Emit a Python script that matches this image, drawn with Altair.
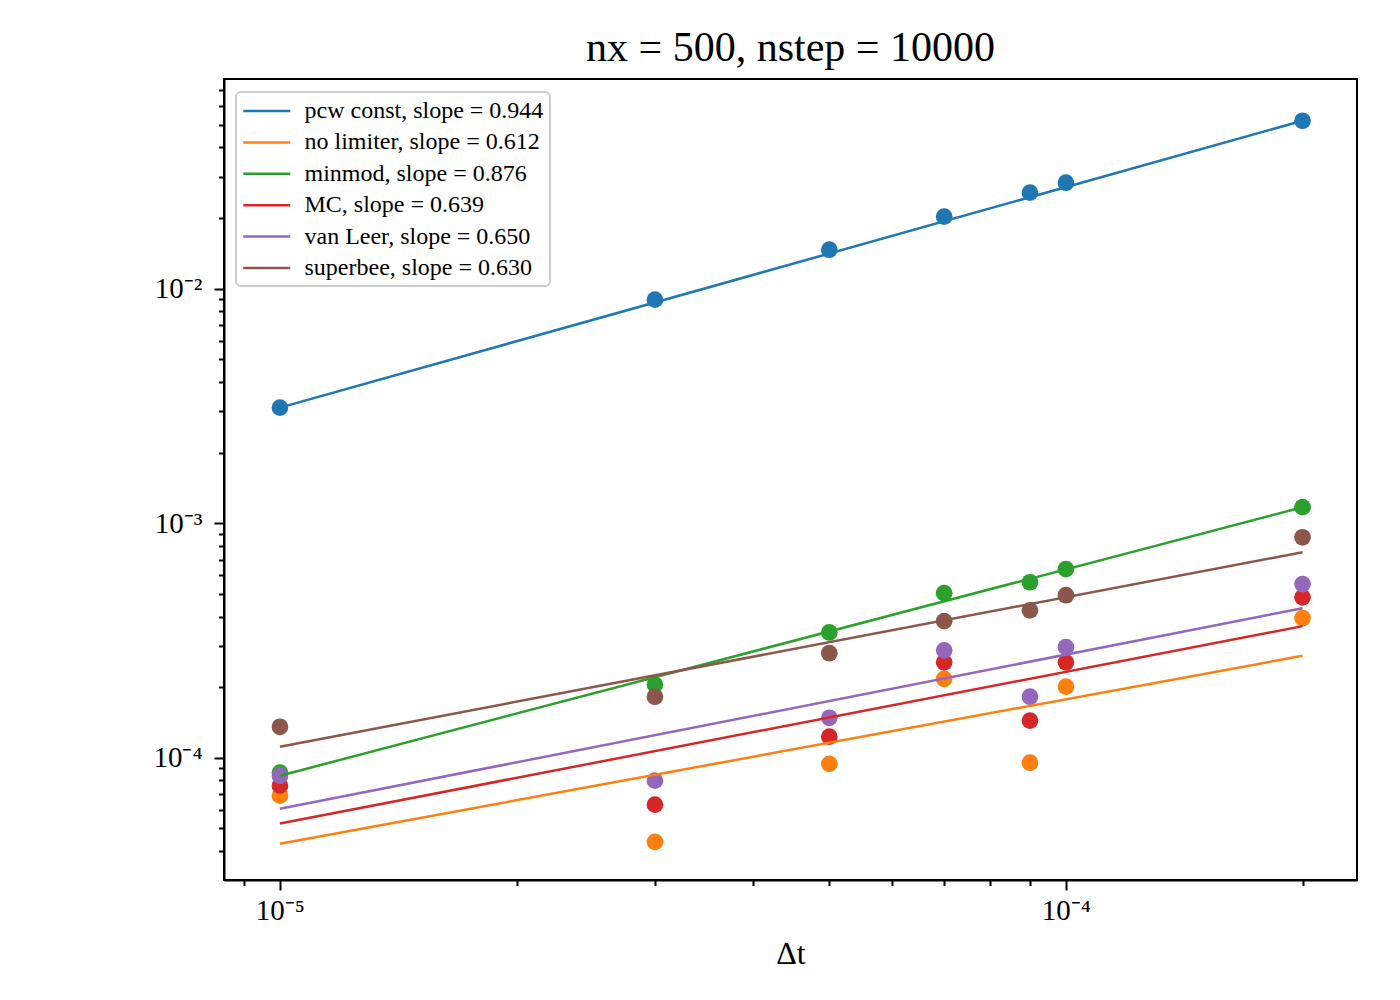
import altair as alt
import pandas as pd

# time steps
dt = [1e-5, 3e-5, 5e-5, 7e-5, 9e-5, 1e-4, 2e-4]

# series names (legend labels)
names = [
    "pcw const, slope = 0.944",
    "no limiter, slope = 0.612",
    "minmod, slope = 0.876",
    "MC, slope = 0.639",
    "van Leer, slope = 0.650",
    "superbee, slope = 0.630",
]
colors = ["#1f77b4", "#ff7f0e", "#2ca02c", "#d62728", "#9467bd", "#8c564b"]

# measured errors
err_pcw = [3.11e-3, 8.98e-3, 1.466e-2, 2.03e-2, 2.566e-2, 2.83e-2, 5.20e-2]
err_nolim = [6.89e-5, 4.38e-5, 9.42e-5, 2.17e-4, 9.52e-5, 2.01e-4, 3.94e-4]
err_minmod = [8.63e-5, 2.05e-4, 3.42e-4, 5.03e-4, 5.60e-4, 6.37e-4, 1.17e-3]
err_mc = [7.60e-5, 6.31e-5, 1.23e-4, 2.55e-4, 1.44e-4, 2.55e-4, 4.83e-4]
err_vl = [8.38e-5, 7.98e-5, 1.48e-4, 2.87e-4, 1.82e-4, 2.96e-4, 5.50e-4]
err_sb = [1.355e-4, 1.82e-4, 2.79e-4, 3.82e-4, 4.25e-4, 4.93e-4, 8.71e-4]
errs = [err_pcw, err_nolim, err_minmod, err_mc, err_vl, err_sb]

# fitted power-law lines, read at the end points
fit_dt = [1e-5, 2e-4]
fit_start = [3.11e-3, 4.30e-5, 8.38e-5, 5.24e-5, 6.06e-5, 1.114e-4]
fit_end = [5.20e-2, 2.72e-4, 1.17e-3, 3.64e-4, 4.34e-4, 7.52e-4]

# axis ticks
x_ticks = [9e-6, 1e-5, 2e-5, 3e-5, 4e-5, 5e-5, 6e-5, 7e-5, 8e-5, 9e-5, 1e-4, 2e-4]
y_ticks = [4e-5, 5e-5, 6e-5, 7e-5, 8e-5, 9e-5,
           1e-4, 2e-4, 3e-4, 4e-4, 5e-4, 6e-4, 7e-4, 8e-4, 9e-4,
           1e-3, 2e-3, 3e-3, 4e-3, 5e-3, 6e-3, 7e-3, 8e-3, 9e-3,
           1e-2, 2e-2, 3e-2, 4e-2, 5e-2, 6e-2, 7e-2]
x_domain = [8.489e-6, 2.346e-4]
y_domain = [3.01e-5, 7.835e-2]

pts = pd.DataFrame(
    [{"dt": d, "err": e, "series": n, "order": i}
     for i, (n, es) in enumerate(zip(names, errs)) for d, e in zip(dt, es)]
)
fits = pd.DataFrame(
    [{"dt": d, "err": e, "series": n, "order": i}
     for i, (n, s, t) in enumerate(zip(names, fit_start, fit_end))
     for d, e in zip(fit_dt, [s, t])]
)

FONT = "Liberation Serif"
major = "abs(log(datum.value)/LN10 - round(log(datum.value)/LN10)) < 1e-6"
label_expr = (
    f"({major}) ? '10' + replace(replace(replace(replace(replace(''+round(log(datum.value)/LN10),"
    "'-','\u207b'),'5','\u2075'),'4','\u2074'),'3','\u00b3'),'2','\u00b2') : ''"
)
tick_size = {"condition": {"test": major, "value": 10}, "value": 5.5}

def make_axis(values, pad, title=None):
    kw = dict(
        values=values, labelExpr=label_expr, tickSize=tick_size, tickWidth=2,
        tickColor="black", domainColor="black", domainWidth=2, grid=False,
        labelFont=FONT, labelFontSize=29, labelColor="black",
        labelOverlap=False, labelFlush=False, labelPadding=pad,
    )
    if title is not None:
        kw.update(title=title, titleFont=FONT, titleFontSize=32,
                  titleFontWeight="normal", titleColor="black", titlePadding=13)
    else:
        kw.update(title=None)
    return alt.Axis(**kw)

xenc = alt.X("dt:Q", scale=alt.Scale(type="log", domain=x_domain, nice=False),
             axis=make_axis(x_ticks, 6, "\u0394t"))
yenc = alt.Y("err:Q", scale=alt.Scale(type="log", domain=y_domain, nice=False),
             axis=make_axis(y_ticks, 12))

legend = alt.Legend(
    title=None, orient="none", legendX=12, legendY=13,
    symbolType="M-1,0H3", symbolSize=552, symbolStrokeWidth=2.5,
    labelFont=FONT, labelFontSize=24, labelColor="black", labelOffset=36.5,
    labelLimit=0, rowPadding=6.4, padding=6, fillColor="rgba(255,255,255,0.8)",
    strokeColor="#cccccc", cornerRadius=5,
)
cenc = alt.Color("series:N", scale=alt.Scale(domain=names, range=colors), legend=legend)

points = alt.Chart(pts).mark_circle(size=280, opacity=1).encode(
    x=xenc, y=yenc, color=cenc, order="order:Q"
)
lines = alt.Chart(fits).mark_line(strokeWidth=2.5).encode(
    x=xenc, y=yenc, color=cenc, detail="series:N"
)

chart = alt.layer(points, lines).properties(
    width=1133, height=801,
    padding={"left": 216, "top": 71, "right": 30, "bottom": 110},
    autosize=alt.AutoSizeParams(type="none"),
    title=alt.Title("nx = 500, nstep = 10000", font=FONT, fontSize=42,
                    fontWeight="normal", color="black",
                    offset=6, anchor="middle", frame="group"),
).configure_view(stroke="black", strokeWidth=2).configure_legend(strokeWidth=2)

chart.save("out.html", embed_options={"renderer": "svg", "actions": False})
